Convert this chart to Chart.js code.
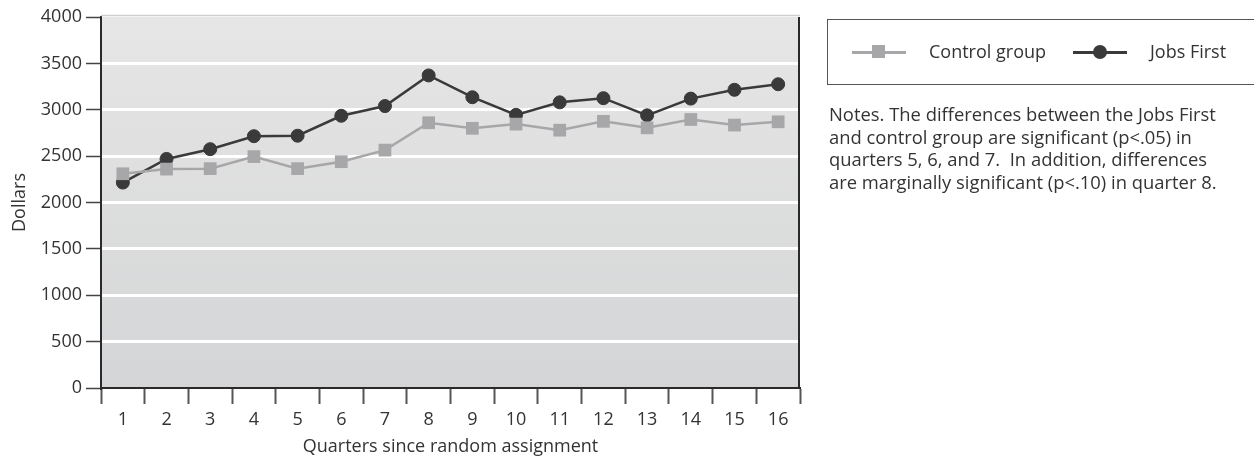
<!DOCTYPE html>
<html>
<head>
<meta charset="utf-8">
<script src="https://cdn.jsdelivr.net/npm/chart.js@4.4.1/dist/chart.umd.min.js"></script>
<style>
  html, body { margin: 0; padding: 0; background: #fff; }
  #wrap { position: relative; width: 1254px; height: 458px; overflow: hidden; }
  canvas { position: absolute; left: 0; top: 0; }
  #legend { position: absolute; left: 827px; top: 19px; width: 460px; height: 66px; border: 1px solid #555; box-sizing: border-box; font-family: "Open Sans", sans-serif; font-size: 18px; color: #333; }
  .li { position: absolute; top: 19px; line-height: 24px; white-space: nowrap; }
  #notes { position: absolute; left: 829px; top: 103px; width: 425px; font-family: "Open Sans", sans-serif; font-size: 18.4px; line-height: 22.6px; color: #333; white-space: nowrap; }
</style>
</head>
<body>
<div id="wrap">
  <canvas id="c" width="1254" height="458"></canvas>
  <div id="legend"></div>
  <div id="notes"></div>
</div>
<script>
const quarters = ["1","2","3","4","5","6","7","8","9","10","11","12","13","14","15","16"];
const controlGroup = [2310, 2360, 2365, 2495, 2365, 2440, 2565, 2860, 2800, 2845, 2780, 2875, 2805, 2895, 2835, 2870];
const jobsFirst = [2215, 2470, 2575, 2715, 2720, 2935, 3040, 3370, 3135, 2945, 3080, 3125, 2940, 3120, 3215, 3275];
const yTicks = [0, 500, 1000, 1500, 2000, 2500, 3000, 3500, 4000];
const seriesNames = ["Control group", "Jobs First"];
const xTitle = "Quarters since random assignment";
const yTitle = "Dollars";
const notesLines = [
  "Notes. The differences between the Jobs First",
  "and control group are significant (p<.05) in",
  "quarters 5, 6, and 7.  In addition, differences",
  "are marginally significant (p<.10) in quarter 8."
];

const FONT = "'Open Sans', sans-serif";
const FS = 18;
const CTRL_COLOR = "#a7a7a9";
const JOBS_COLOR = "#3a3a3a";

const bgPlugin = {
  id: "bg",
  beforeDraw(chart) {
    const {ctx, chartArea: a} = chart;
    ctx.save();
    const g = ctx.createLinearGradient(0, a.top, 0, a.bottom);
    g.addColorStop(0, "#e6e6e6");
    g.addColorStop(1, "#d4d5d6");
    ctx.fillStyle = g;
    ctx.fillRect(a.left, a.top, a.right - a.left, a.bottom - a.top);
    ctx.restore();
  },
  afterDraw(chart) {
    const {ctx, chartArea: a} = chart;
    ctx.save();
    ctx.strokeStyle = "#2a2a2a";
    ctx.lineWidth = 2;
    ctx.beginPath();
    ctx.moveTo(a.right - 1, a.top);
    ctx.lineTo(a.right - 1, a.bottom);
    ctx.stroke();
    ctx.strokeStyle = "#cfcfcf";
    ctx.lineWidth = 1.5;
    ctx.beginPath();
    ctx.moveTo(a.left, a.top - 1.5);
    ctx.lineTo(a.right, a.top - 1.5);
    ctx.stroke();
    ctx.restore();
  }
};

new Chart(document.getElementById("c"), {
  type: "line",
  data: {
    labels: quarters,
    datasets: [
      { label: seriesNames[0], data: controlGroup, borderColor: CTRL_COLOR, backgroundColor: CTRL_COLOR,
        borderWidth: 2.5, pointStyle: "rect", pointRadius: 9, pointBorderWidth: 0, tension: 0 },
      { label: seriesNames[1], data: jobsFirst, borderColor: JOBS_COLOR, backgroundColor: JOBS_COLOR,
        borderWidth: 2.5, pointStyle: "circle", pointRadius: 6.5, pointBorderWidth: 1, tension: 0 }
    ]
  },
  plugins: [bgPlugin],
  options: {
    responsive: false,
    animation: false,
    devicePixelRatio: 1,
    layout: { padding: { top: 17, right: 454, left: 0, bottom: 0 } },
    plugins: { legend: { display: false }, tooltip: { enabled: false } },
    scales: {
      x: {
        type: "category",
        offset: true,
        afterFit(s) { s.height = 70; },
        grid: { offset: true, drawOnChartArea: false, drawTicks: true, tickLength: 16, tickColor: "#555", tickWidth: 2 },
        border: { display: true, color: "#2a2a2a", width: 2 },
        ticks: { color: "#333", font: { family: FONT, size: FS }, padding: 5, autoSkip: false, maxRotation: 0 },
        title: { display: true, text: xTitle, color: "#333", font: { family: FONT, size: FS }, padding: { top: 0, bottom: 0 } }
      },
      y: {
        min: 0, max: 4000,
        afterFit(s) { s.width = 101; },
        afterBuildTicks(s) { s.ticks = yTicks.map(v => ({ value: v })); },
        grid: {
          color: c => (c.tick && (c.tick.value === 4000 || c.tick.value === 0)) ? "rgba(0,0,0,0)" : "#ffffff",
          lineWidth: 3, drawTicks: true, tickLength: 15, tickColor: "#444", tickWidth: 1.5
        },
        border: { display: true, color: "#2a2a2a", width: 2 },
        ticks: { color: "#333", font: { family: FONT, size: FS }, padding: 4, callback: v => String(v) },
        title: { display: true, text: yTitle, color: "#333", font: { family: FONT, size: FS }, padding: { top: 9, bottom: 0 } }
      }
    }
  }
});

// Legend (HTML text)
const legend = document.getElementById("legend");
function legendItem(left, textLeft, name, color, square) {
  const line = document.createElement("div");
  line.style.cssText = `position:absolute;left:${left}px;top:31px;width:54px;height:2.5px;background:${color}`;
  legend.appendChild(line);
  const m = document.createElement("div");
  if (square) m.style.cssText = `position:absolute;left:${left + 20}px;top:25px;width:13px;height:13px;background:${color}`;
  else m.style.cssText = `position:absolute;left:${left + 20}px;top:25px;width:14px;height:14px;border-radius:50%;background:${color}`;
  legend.appendChild(m);
  const t = document.createElement("div");
  t.className = "li";
  t.style.left = textLeft + "px";
  t.textContent = name;
  legend.appendChild(t);
}
legendItem(24, 101, seriesNames[0], CTRL_COLOR, true);
legendItem(245, 322, seriesNames[1], JOBS_COLOR, false);

document.getElementById("notes").innerHTML = notesLines.map(l => l.replace(/&/g,"&amp;").replace(/</g,"&lt;").replace(/  /g, " &nbsp;")).join("<br>");
</script>
</body>
</html>
